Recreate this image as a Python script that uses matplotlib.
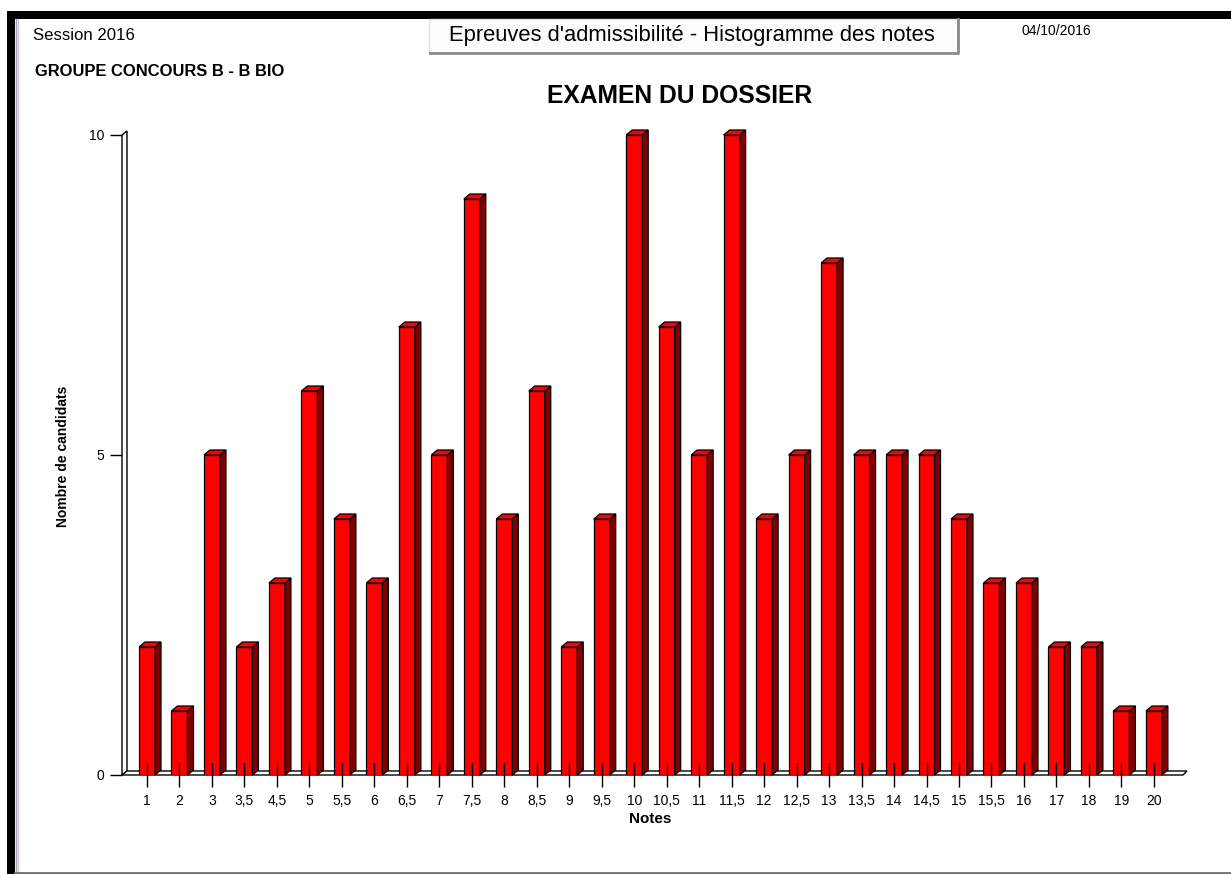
import matplotlib
matplotlib.use("Agg")
import matplotlib.pyplot as plt
from matplotlib.patches import Rectangle, Polygon

plt.rcParams['font.family'] = ['Liberation Sans', 'DejaVu Sans']

# données
notes = ['1', '2', '3', '3,5', '4,5', '5', '5,5', '6', '6,5', '7', '7,5', '8',
         '8,5', '9', '9,5', '10', '10,5', '11', '11,5', '12', '12,5', '13',
         '13,5', '14', '14,5', '15', '15,5', '16', '17', '18', '19', '20']
nb_candidats = [2, 1, 5, 2, 3, 6, 4, 3, 7, 5, 9, 4, 6, 2, 4, 10, 7, 5, 10, 4,
                5, 8, 5, 5, 5, 4, 3, 3, 2, 2, 1, 1]
y_ticks = [0, 5, 10]

W, H = 1231, 874
fig = plt.figure(figsize=(W / 100, H / 100), dpi=100)
fig.patch.set_facecolor('white')

# calque pour le cadre et l'en-tete (coordonnees pixels)
bg = fig.add_axes([0, 0, 1, 1], zorder=0)
bg.set_xlim(0, W)
bg.set_ylim(H, 0)
bg.axis('off')

bg.add_patch(Rectangle((7, 11), W - 7, 8, color='black', lw=0))
bg.add_patch(Rectangle((7, 11), 8, H - 11, color='black', lw=0))
bg.plot([15.8, 15.8], [19, H], color='#a898b8', lw=1)
bg.plot([17.5, 17.5], [19, H], color='#c8c8c0', lw=1)
bg.plot([15, W], [872.5, 872.5], color='#707070', lw=2)

# bouton du titre
bg.add_patch(Rectangle((429, 19), 529, 34, facecolor='#fcfcfa', edgecolor='#e4e2dc', lw=1))
bg.plot([430, 958, 958], [53, 53, 19], color='#8c8a84', lw=2)
bg.text(692, 36, "Epreuves d'admissibilité - Histogramme des notes",
        fontsize=15.8, ha='center', va='center', color='black')

bg.text(33, 35, 'Session 2016', fontsize=12.1, ha='left', va='center')
bg.text(35, 71, 'GROUPE CONCOURS B - B BIO', fontsize=11.9, fontweight='bold',
        ha='left', va='center')
bg.text(1022, 31, '04/10/2016', fontsize=10, ha='left', va='center')
bg.text(680, 96, 'EXAMEN DU DOSSIER', fontsize=17.7, fontweight='bold',
        ha='center', va='center')
bg.text(63, 456, 'Nombre de candidats', fontsize=10, fontweight='bold',
        rotation=90, ha='center', va='center')
bg.text(650, 819, 'Notes', fontsize=11, fontweight='bold', ha='center', va='center')

# graphique principal
ax = fig.add_axes([122 / W, (H - 775) / H, (1187 - 122) / W, 640 / H], zorder=1)
ax.set_facecolor('none')
x0, x1 = -0.770, 32.02
ax.set_xlim(x0, x1)
ax.set_ylim(0, 10)
for s in ax.spines.values():
    s.set_visible(False)

px_x = (x1 - x0) / 1065.0   # unites par pixel
px_y = 10 / 640.0

# mur et sol
ax.add_patch(Polygon([(x0, 0), (x0, 10), (x0 + 5 * px_x, 10 + 4 * px_y),
                      (x0 + 5 * px_x, 4 * px_y)],
                     closed=True, facecolor='white', edgecolor='black', lw=1,
                     clip_on=False, zorder=0.5))
ax.add_patch(Polygon([(x0, 0), (x0 + 5 * px_x, 4 * px_y), (x1, 4 * px_y),
                      (x1 - 4 * px_x, 0)],
                     closed=True, facecolor='white', edgecolor='black', lw=1,
                     clip_on=False, zorder=0.5))

# barres 3D
idx = list(range(len(notes)))
w = 16 * px_x
dx, dy = 6 * px_x, 5 * px_y
ax.bar(idx, nb_candidats, width=w, color='#ff0000', edgecolor='black',
       linewidth=0.9, zorder=1)
for i, v in zip(idx, nb_candidats):
    r = i + w / 2
    l = i - w / 2
    ax.add_patch(Polygon([(r, 0), (r + dx, dy), (r + dx, v + dy), (r, v)],
                         closed=True, facecolor='#800000', edgecolor='black',
                         lw=0.9, clip_on=False, zorder=1))
    ax.add_patch(Polygon([(l, v), (l + dx, v + dy), (r + dx, v + dy), (r, v)],
                         closed=True, facecolor='#ff0000', edgecolor='black',
                         lw=0.9, clip_on=False, zorder=1))

ax.set_axisbelow(False)
ax.set_xticks(idx)
ax.set_xticklabels(notes, fontsize=10)
ax.tick_params(axis='x', direction='inout', length=17.3, width=1.0, pad=5)
ax.set_yticks(y_ticks)
ax.set_yticklabels([str(t) for t in y_ticks], fontsize=10)
ax.tick_params(axis='y', direction='out', length=8.6, width=1.0, pad=4)

fig.savefig('out.png', dpi=100)
